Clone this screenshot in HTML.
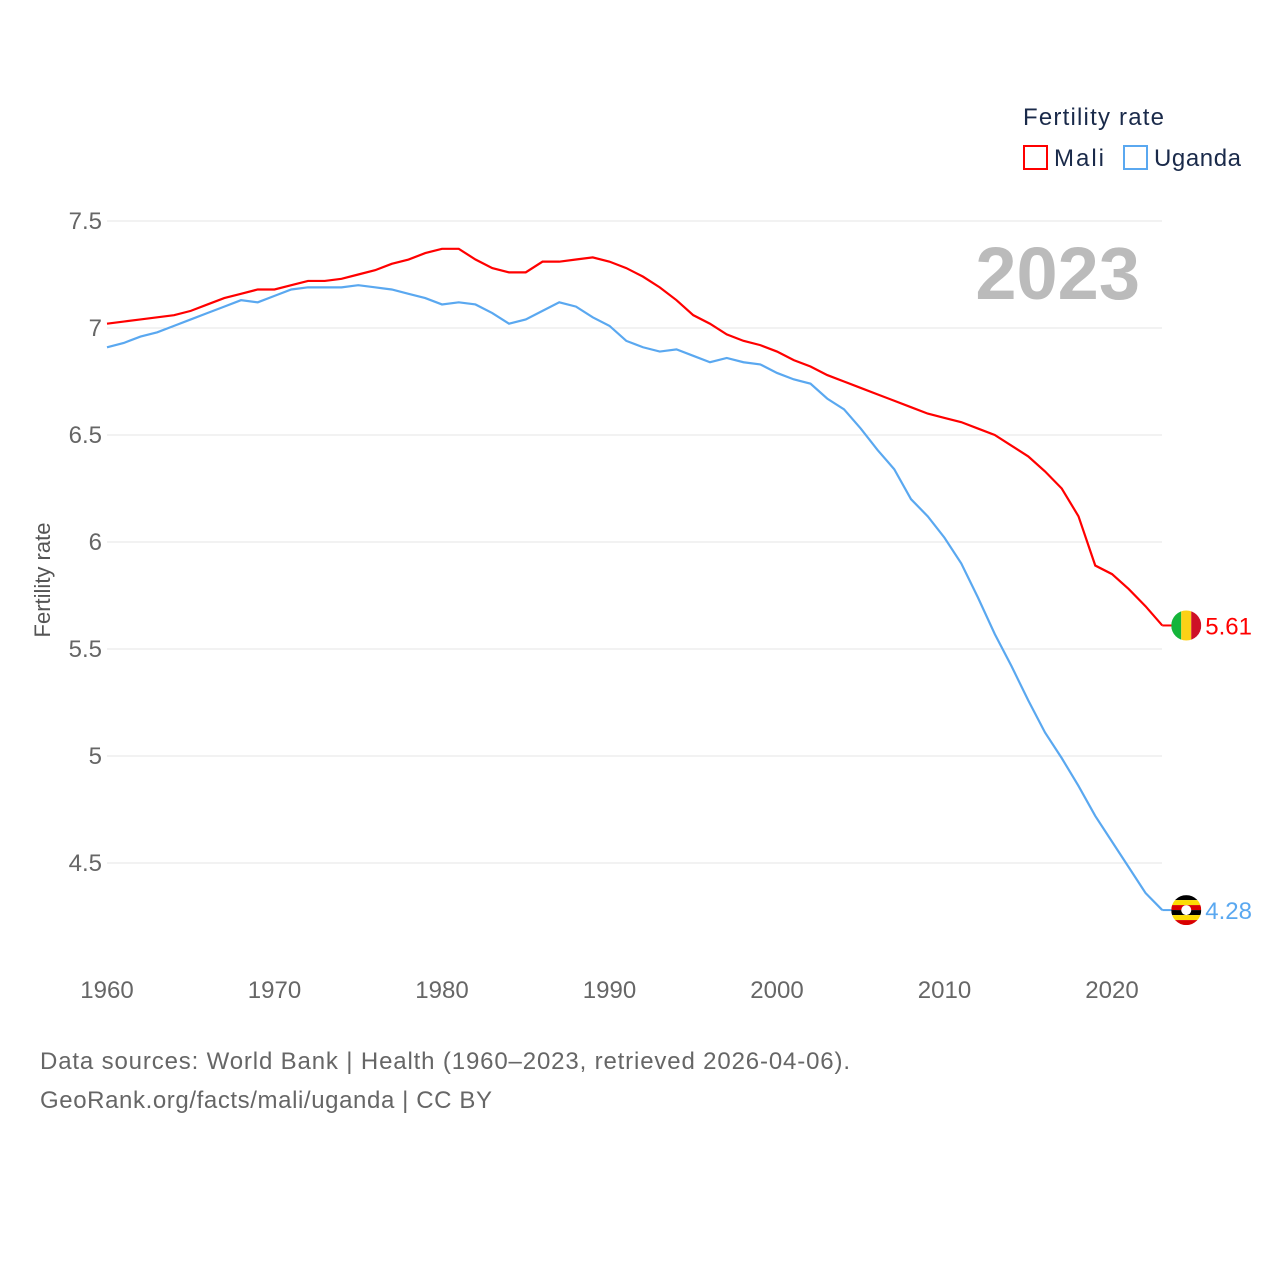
<!DOCTYPE html>
<html><head><meta charset="utf-8"><style>
body{margin:0;background:#fff;font-family:"Liberation Sans",sans-serif;}
svg text{font-family:"Liberation Sans",sans-serif;}
</style></head><body>
<svg width="1280" height="1280">
<g id="grid"></g>
<g id="yt"></g>
<g id="xt"></g>
<text x="50" y="580" font-size="22" fill="#555" transform="rotate(-90 50 580)" text-anchor="middle">Fertility rate</text>
<text x="1140" y="299" font-size="74" font-weight="bold" fill="#bbb" text-anchor="end">2023</text>
<text x="1023" y="125" font-size="24" fill="#1a2a4a" textLength="141">Fertility rate</text>
<g><rect x="1024" y="146" width="23" height="23" fill="none" stroke="#f00" stroke-width="2"/><text x="1054" y="166" font-size="24" fill="#1a2a4a" textLength="50">Mali</text></g>
<g><rect x="1124" y="146" width="23" height="23" fill="none" stroke="#5aa8f0" stroke-width="2"/><text x="1154" y="166" font-size="24" fill="#1a2a4a" textLength="87">Uganda</text></g>
<path id="mali" fill="none" stroke="#f00" stroke-width="2.2"/>
<path id="uganda" fill="none" stroke="#5aa8f0" stroke-width="2.2"/>
<g id="ends"></g>
<text x="40" y="1069" font-size="24" fill="#666" textLength="810">Data sources: World Bank | Health (1960–2023, retrieved 2026-04-06).</text>
<text x="40" y="1108" font-size="24" fill="#666" textLength="452">GeoRank.org/facts/mali/uganda | CC BY</text>
</svg>
<script>
const years=[];for(let y=1960;y<=2023;y++)years.push(y);
const mali=[7.02,7.03,7.04,7.05,7.06,7.08,7.11,7.14,7.16,7.18,7.18,7.20,7.22,7.22,7.23,7.25,7.27,7.30,7.32,7.35,7.37,7.37,7.32,7.28,7.26,7.26,7.31,7.31,7.32,7.33,7.31,7.28,7.24,7.19,7.13,7.06,7.02,6.97,6.94,6.92,6.89,6.85,6.82,6.78,6.75,6.72,6.69,6.66,6.63,6.60,6.58,6.56,6.53,6.50,6.45,6.40,6.33,6.25,6.12,5.89,5.85,5.78,5.70,5.61];
const uganda=[6.91,6.93,6.96,6.98,7.01,7.04,7.07,7.10,7.13,7.12,7.15,7.18,7.19,7.19,7.19,7.20,7.19,7.18,7.16,7.14,7.11,7.12,7.11,7.07,7.02,7.04,7.08,7.12,7.10,7.05,7.01,6.94,6.91,6.89,6.90,6.87,6.84,6.86,6.84,6.83,6.79,6.76,6.74,6.67,6.62,6.53,6.43,6.34,6.20,6.12,6.02,5.90,5.74,5.57,5.42,5.26,5.11,4.99,4.86,4.72,4.60,4.48,4.36,4.28];
const yTicks=[4.5,5,5.5,6,6.5,7,7.5];
const xTicks=[1960,1970,1980,1990,2000,2010,2020];
const X=y=>107+(y-1960)*16.75;
const Y=v=>221+(7.5-v)*214;
const NS="http://www.w3.org/2000/svg";
function mk(t,a,p){const e=document.createElementNS(NS,t);for(const k in a)e.setAttribute(k,a[k]);p.appendChild(e);return e;}
const g=document.getElementById('grid'),yt=document.getElementById('yt'),xt=document.getElementById('xt');
yTicks.forEach(v=>{
 const l=mk('line',{x1:107,x2:1162,y1:Y(v),y2:Y(v),stroke:'#e6e6e6','stroke-width':1},g);
 
 
 const t=mk('text',{x:102,y:Y(v)+8,'font-size':24,fill:'#666','text-anchor':'end'},yt);t.textContent=String(v);
 
 
});
xTicks.forEach(v=>{
 const t=mk('text',{x:X(v),y:998,'font-size':24,fill:'#666','text-anchor':'middle'},xt);t.textContent=v;
 
 
});
document.getElementById('mali').setAttribute('d',mali.map((v,i)=>(i?'L':'M')+X(years[i])+','+Y(v)).join(''));
document.getElementById('uganda').setAttribute('d',uganda.map((v,i)=>(i?'L':'M')+X(years[i])+','+Y(v)).join(''));
const ends=document.getElementById('ends');
function end(vals,col,flag,name){
 const v=vals[vals.length-1],x=X(2023),y=Y(v);
 mk('line',{x1:x,x2:x+14,y1:y,y2:y,stroke:col,'stroke-width':2},ends);
 const f=mk('g',{},ends);
 
 
 const cx=x+24;
 const clip=mk('clipPath',{id:'c'+name},f);mk('circle',{cx:cx,cy:y,r:15},clip);
 const inner=mk('g',{'clip-path':'url(#c'+name+')'},f);
 flag(inner,cx,y);
 const t=mk('text',{x:cx+19,y:y+9,'font-size':24,fill:col},ends);t.textContent=v.toFixed(2);
 
 
}
end(mali,'#f00',(p,cx,cy)=>{mk('rect',{x:cx-15,y:cy-15,width:10,height:30,fill:'#14b53a'},p);mk('rect',{x:cx-5,y:cy-15,width:10,height:30,fill:'#fcd116'},p);mk('rect',{x:cx+5,y:cy-15,width:10,height:30,fill:'#ce1126'},p);},'mali');
end(uganda,'#5aa8f0',(p,cx,cy)=>{const c=['#000','#fcdc04','#d90000','#000','#fcdc04','#d90000'];c.forEach((col,i)=>mk('rect',{x:cx-15,y:cy-15+i*5,width:30,height:5,fill:col},p));mk('circle',{cx:cx,cy:cy,r:5,fill:'#fff'},p);},'uganda');
</script>
</body></html>
